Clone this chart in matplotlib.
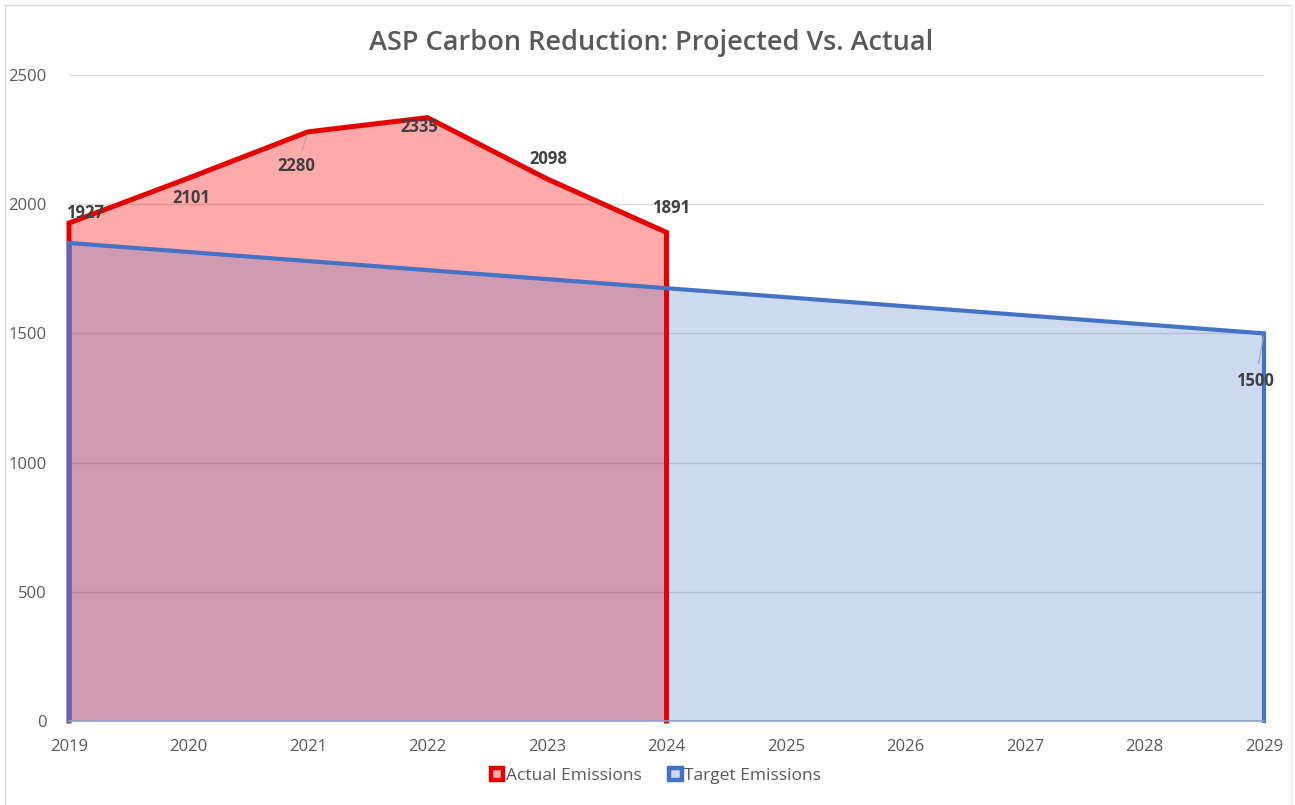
import matplotlib
matplotlib.use("Agg")
import matplotlib.pyplot as plt
from matplotlib.patches import Patch
from matplotlib.lines import Line2D

years = [2019, 2020, 2021, 2022, 2023, 2024, 2025, 2026, 2027, 2028, 2029]
actual_years = [2019, 2020, 2021, 2022, 2023, 2024]
actual = [1927, 2101, 2280, 2335, 2098, 1891]
target = [1850, 1815, 1780, 1745, 1710, 1675, 1640, 1605, 1570, 1535, 1500]
yticks = [0, 500, 1000, 1500, 2000, 2500]
title = "ASP Carbon Reduction: Projected Vs. Actual"

plt.rcParams['font.family'] = ['Open Sans', 'DejaVu Sans']

fig = plt.figure(figsize=(12.95, 8.05), dpi=100)
ax = fig.add_axes([69/1295, 1-721/805, (1264-69)/1295, (721-75)/805])

red = '#E60000'
blue = '#4472C4'

ax.fill_between(actual_years, actual, 0, facecolor='#FF0000', alpha=0.333, linewidth=0, zorder=2)
ax.fill_between(years, target, 0, facecolor=blue, alpha=0.26, linewidth=0, zorder=3)

rx = [actual_years[0]] + actual_years + [actual_years[-1]]
ry = [0] + actual + [0]
ax.plot(rx, ry, color=red, lw=3.6, solid_joinstyle='miter', clip_on=False, zorder=4)
bx = [years[0]] + years + [years[-1]]
by = [0] + target + [0]
ax.plot(bx, by, color=blue, lw=3.0, solid_joinstyle='miter', clip_on=False, zorder=5)

ax.set_xlim(years[0], years[-1])
ax.set_ylim(0, 2500)
ax.set_yticks(yticks)
ax.set_xticks(years)
ax.set_xticklabels([str(y) for y in years])
ax.tick_params(axis='both', length=0, labelsize=12, labelcolor='#595959')
ax.tick_params(axis='x', pad=13)
ax.tick_params(axis='y', pad=16)
ax.grid(axis='y', color='#D9D9D9', lw=1)
ax.set_axisbelow(True)
for s in ['top', 'right', 'left']:
    ax.spines[s].set_visible(False)
ax.spines['bottom'].set_color('#8FA2C6')
ax.spines['bottom'].set_linewidth(1.2)
ax.spines['bottom'].set_zorder(6)

# data labels (offsets in pixels)
act_offsets = [(16, 10), (3, -20), (-12, -34), (-8, -9), (1, 20), (5, 24)]
for x, y, off in zip(actual_years, actual, act_offsets):
    ax.annotate(str(y), (x, y), xytext=off, textcoords='offset pixels',
                ha='center', va='center', fontsize=12, fontweight='bold',
                color='#404040', zorder=7)
# leader line for 2280
ax.annotate('', (actual_years[2], actual[2]), xytext=(-7, -22), textcoords='offset pixels',
            arrowprops=dict(arrowstyle='-', color='#A6A6A6', lw=0.8), zorder=6)
ax.annotate(str(target[-1]), (years[-1], target[-1]), xytext=(-9, -48), textcoords='offset pixels',
            ha='center', va='center', fontsize=12, fontweight='bold', color='#404040',
            zorder=7, annotation_clip=False)
ax.annotate('', (years[-1], target[-1]), xytext=(-6, -33), textcoords='offset pixels',
            arrowprops=dict(arrowstyle='-', color='#A6A6A6', lw=0.8), zorder=6,
            annotation_clip=False)

fig.text(651/1295, 1-43/805, title, ha='center', va='center', fontsize=19.5,
         fontweight='semibold', color='#595959')

handles = [Patch(facecolor='#FFAAAA', edgecolor=red, lw=3.2),
           Patch(facecolor='#CDDAF0', edgecolor=blue, lw=3.2)]
fig.legend(handles, ['Actual Emissions', 'Target Emissions'], loc='center',
           bbox_to_anchor=(656/1295, 1-776/805), ncol=2, frameon=False,
           fontsize=12.5, labelcolor='#595959', handlelength=0.72, handleheight=0.72,
           handletextpad=0.15, columnspacing=1.6)

# chart border
fig.add_artist(Line2D([5/1295, 1291/1295], [1-5/805, 1-5/805], color='#D9D9D9', lw=1))
fig.add_artist(Line2D([5/1295, 5/1295], [0, 1-5/805], color='#D9D9D9', lw=1))
fig.add_artist(Line2D([1291/1295, 1291/1295], [0, 1-5/805], color='#EEEEEE', lw=1))

fig.savefig('out.png', dpi=100, facecolor='white')
